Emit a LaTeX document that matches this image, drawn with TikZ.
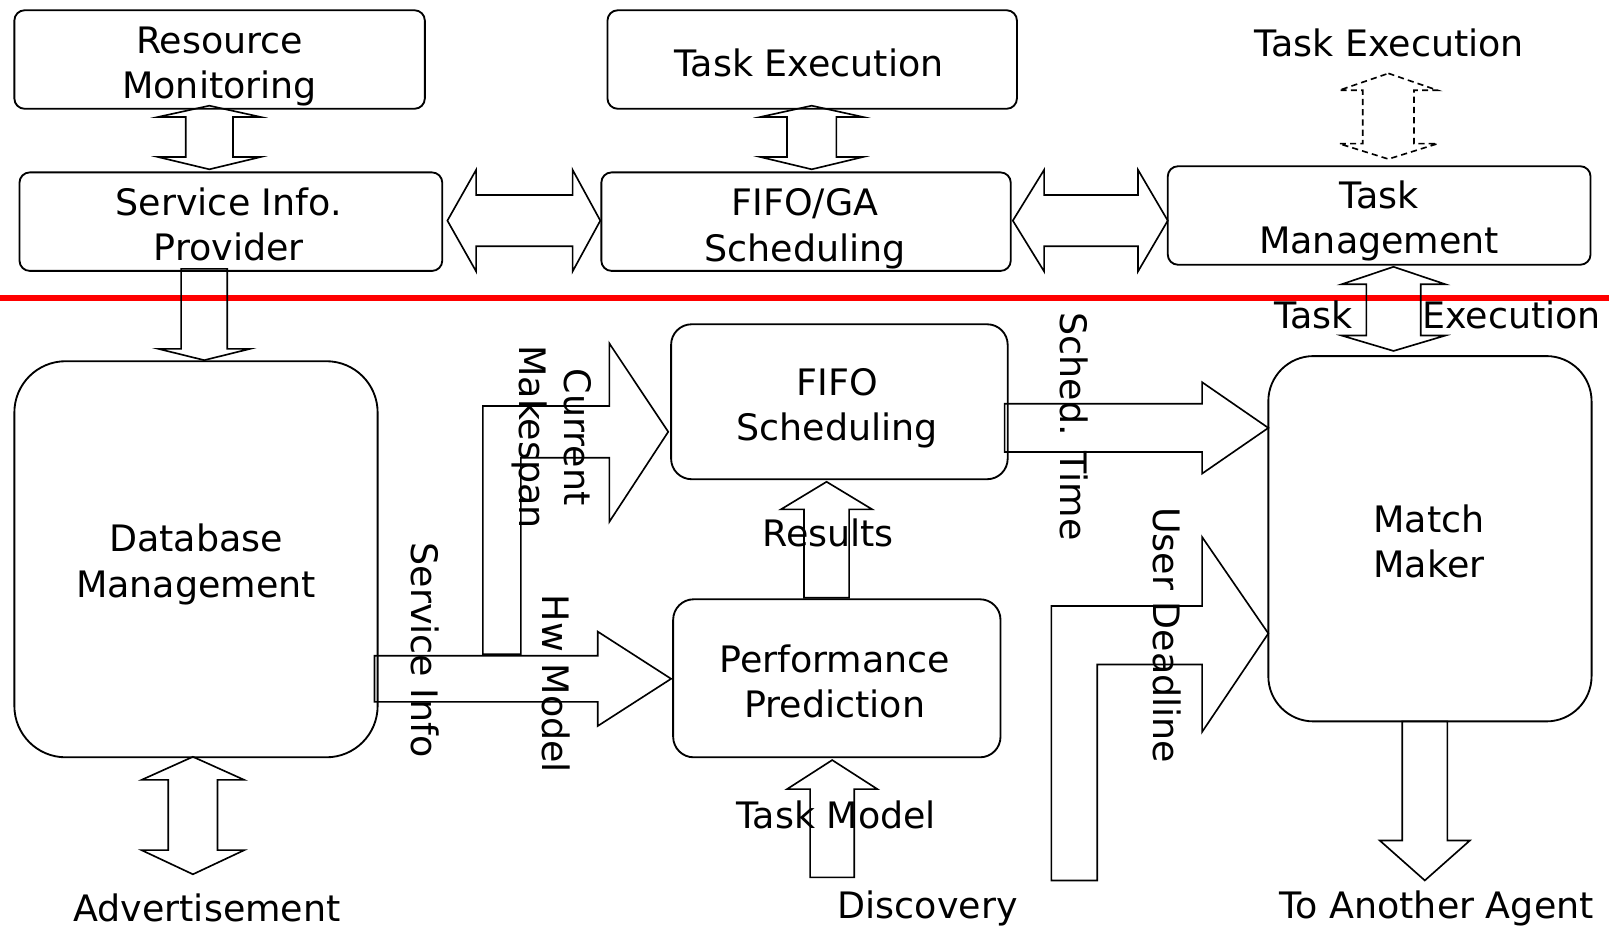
\documentclass[tikz,border=0pt]{standalone}
\usepackage{fontspec}
\setmainfont{DejaVu Sans}
\newcommand\vdbl[7]{\draw[blk] (#1,#4) -- ({#1+#3},#5) -- ({#1+#2},#5) -- ({#1+#2},#6) -- ({#1+#3},#6) -- (#1,#7) -- ({#1-#3},#6) -- ({#1-#2},#6) -- ({#1-#2},#5) -- ({#1-#3},#5) -- cycle;}
\newcommand\vdbldash[7]{\draw[blk,dashed,dash pattern=on 3pt off 2pt] (#1,#4) -- ({#1+#3},#5) -- ({#1+#2},#5) -- ({#1+#2},#6) -- ({#1+#3},#6) -- (#1,#7) -- ({#1-#3},#6) -- ({#1-#2},#6) -- ({#1-#2},#5) -- ({#1-#3},#5) -- cycle;}
\newcommand\hdbl[7]{\draw[blk] (#4,#1) -- (#5,{#1-#3}) -- (#5,{#1-#2}) -- (#6,{#1-#2}) -- (#6,{#1-#3}) -- (#7,#1) -- (#6,{#1+#3}) -- (#6,{#1+#2}) -- (#5,{#1+#2}) -- (#5,{#1+#3}) -- cycle;}
\newcommand\sarrh[6]{\draw[blk] (#4,{#1-#2}) -- (#5,{#1-#2}) -- (#5,{#1-#3}) -- (#6,#1) -- (#5,{#1+#3}) -- (#5,{#1+#2}) -- (#4,{#1+#2}) -- cycle;}
\newcommand\sarrv[6]{\draw[blk] ({#1-#2},#4) -- ({#1-#2},#5) -- ({#1-#3},#5) -- (#1,#6) -- ({#1+#3},#5) -- ({#1+#2},#5) -- ({#1+#2},#4) -- cycle;}
\begin{document}
\begin{tikzpicture}[x=0.5pt,y=-0.5pt,
  every node/.style={font=\fontsize{17.75}{22}\selectfont, inner sep=0pt, align=center},
  box/.style={draw, line width=0.9pt, rounded corners=5pt},
  blk/.style={draw, line width=0.8pt, line join=miter},
  vlbl/.style={rotate=-90}]
\useasboundingbox (0,0) rectangle (1568,905);
% red separator
\draw[red, line width=3pt] (0,290) -- (1568,290);
% boxes
\node[box, minimum width=200pt, minimum height=48pt] (rm) at (214,58) {};
\node[box, minimum width=199.5pt, minimum height=48pt] (te) at (791.5,58) {};
\node[box, minimum width=206pt, minimum height=48pt] (sip) at (225,216) {};
\node[box, minimum width=199.5pt, minimum height=48pt] (fg) at (785.5,216) {};
\node[box, minimum width=206pt, minimum height=48pt] (tm) at (1344,210) {};
\node[box, rounded corners=25pt, minimum width=177pt, minimum height=193pt] (db) at (191,545) {};
\node[box, rounded corners=10pt, minimum width=164pt, minimum height=75.5pt] (fs) at (818,391.5) {};
\node[box, rounded corners=10pt, minimum width=159.5pt, minimum height=77pt] (pp) at (815.5,661) {};
\node[box, rounded corners=22pt, minimum width=157.5pt, minimum height=178pt] (mm) at (1393.5,525) {};
% box texts
\node (rmt) at ([yshift=-3.5pt]rm.center) {Resource\\Monitoring};
\node (tet) at ([yshift=-1.5pt,xshift=-1.5pt]te.center) {Task Execution};
\node (sipt) at ([yshift=-1.5pt,xshift=-1pt]sip.center) {Service Info.\\Provider};
\node (fgt) at ([yshift=-3.5pt,xshift=-0.5pt]fg.center) {FIFO/GA\\Scheduling};
\node (tmt) at ([yshift=-2.5pt]tm.center) {Task\\Management};
\node (dbt) at ([yshift=-2.5pt]db.center) {Database\\Management};
\node (fst) at ([yshift=-3pt,xshift=-1pt]fs.center) {FIFO\\Scheduling};
\node (ppt) at ([yshift=-1.5pt,xshift=-1pt]pp.center) {Performance\\Prediction};
\node (mmt) at ([yshift=-1.5pt,xshift=-0.5pt]mm.center) {Match\\Maker};
% block arrows
\vdbl{204}{23}{50}{103}{114}{153}{165}
\vdbl{791}{24}{50}{103}{114}{153}{165}
\vdbldash{1353}{25}{48}{71.5}{88}{140}{155}
\vdbl{1358}{26.5}{50.5}{260}{277}{327}{342}
\vdbl{188}{24}{50}{737.5}{760}{828.5}{852}
\hdbl{215}{25}{49.5}{436}{464}{558}{585}
\hdbl{215}{25}{49.5}{987}{1017.5}{1109}{1138}
\sarrv{199}{22.5}{44.5}{262}{340}{351}
\sarrh{417}{23.5}{44.5}{979}{1171.5}{1236}
\sarrh{661.5}{22.5}{46}{365}{582.5}{654}
\sarrv{805.5}{22}{44.5}{582.5}{496.4}{469.5}
\sarrv{811}{21.5}{44}{855}{769}{740.7}
\sarrv{1388.5}{22}{44}{703}{819}{858}
% L-shaped arrows
\draw[blk] (470.6,637.4) -- (470.6,395.7) -- (593.8,395.7) -- (593.8,334.6) -- (651.2,420.8) -- (593.8,508.5) -- (593.8,446.1) -- (507.6,446.1) -- (507.6,637.4) -- cycle;
\draw[blk] (1024.6,858) -- (1024.6,590.6) -- (1171.5,590.6) -- (1171.5,523.4) -- (1236,617.3) -- (1171.5,713.2) -- (1171.5,647.5) -- (1069.3,647.5) -- (1069.3,858) -- cycle;
% labels
\node (lte) at (1354,42) {Task Execution};
\node (ltask) at (1280,307) {Task};
\node (lexec) at (1473,307) {Execution};
\node (ladv) at (201.7,885) {Advertisement};
\node (ldisc) at (904,885) {Discovery};
\node (lagent) at (1400,885) {To Another Agent};
\node (lres) at (807,519) {Results};
\node (ltm) at (815,794) {Task Model};
\node[vlbl] (lsched) at (1047,415.5) {Sched. Time};
\node[vlbl] (luser) at (1137,619) {User Deadline};
\node[vlbl] (lsi) at (414,633.5) {Service Info};
\node[vlbl] (lhw) at (542,666.5) {Hw Model};
\node[vlbl] (lcm) at (538,426) {Current\\Makespan};
\end{tikzpicture}
\end{document}
